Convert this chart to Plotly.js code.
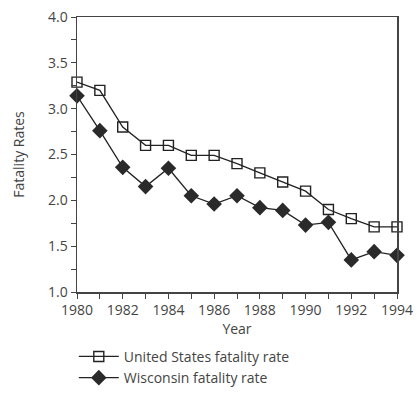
<!DOCTYPE html>
<html><head><meta charset="utf-8">
<script src="https://cdn.plot.ly/plotly-3.0.1.min.js"></script>
<style>body{margin:0;background:#fff}#c{width:417px;height:398px}</style>
</head><body><div id="c"></div>
<script>
const years = [1980,1981,1982,1983,1984,1985,1986,1987,1988,1989,1990,1991,1992,1993,1994];
const usRate = [3.29,3.20,2.80,2.60,2.60,2.49,2.49,2.40,2.30,2.20,2.10,1.90,1.80,1.71,1.71];
const wiRate = [3.14,2.76,2.36,2.15,2.35,2.05,1.96,2.05,1.92,1.89,1.73,1.76,1.35,1.44,1.40];
const seriesNames = ['United States fatality rate','Wisconsin fatality rate'];

const font = {family:'Open Sans, Noto Sans, sans-serif', size:13, color:'#444'};
const data = [
  {x:years, y:usRate, name:seriesNames[0], mode:'lines+markers', cliponaxis:false,
   line:{color:'#222', width:1.3},
   marker:{symbol:'square-open', size:10, color:'#222', line:{width:1.4, color:'#222'}}},
  {x:years, y:wiRate, name:seriesNames[1], mode:'lines+markers', cliponaxis:false,
   line:{color:'#222', width:1.3},
   marker:{symbol:'diamond', size:12, color:'#2a2a2a'}}
];
const layout = {
  width:417, height:398,
  margin:{l:77, r:20, t:17, b:106, autoexpand:false},
  paper_bgcolor:'#fff', plot_bgcolor:'#fff',
  font:font,
  showlegend:true,
  legend:{x:-0.01, xanchor:'left', yref:'container', y:0.077, yanchor:'middle', orientation:'v',
    itemwidth:40,
    font:{family:font.family, size:14, color:'#444'}, tracegroupgap:0, bgcolor:'rgba(0,0,0,0)'},
  xaxis:{range:[1980,1994], tickvals:[1980,1982,1984,1986,1988,1990,1992,1994], automargin:true,
    ticks:'outside', ticklen:5, tickcolor:'#444', showgrid:false, zeroline:false,
    showline:true, linecolor:'#444', linewidth:1.5, mirror:true,
    minor:{dtick:1, tick0:1980, ticks:'outside', ticklen:5, tickcolor:'#444', showgrid:false},
    title:{text:'Year', font:{family:font.family, size:14, color:'#444'}, standoff:4},
    tickfont:{family:font.family, size:14, color:'#444'}},
  yaxis:{range:[1,4], dtick:0.5, tick0:1, tickformat:'.1f', automargin:true,
    ticks:'outside', ticklen:5, tickcolor:'#444', showgrid:false, zeroline:false,
    showline:true, linecolor:'#444', linewidth:1.5, mirror:true,
    minor:{dtick:0.25, tick0:1, ticks:'outside', ticklen:5, tickcolor:'#444', showgrid:false},
    title:{text:'Fatality Rates', font:{family:font.family, size:14, color:'#444'}, standoff:20},
    tickfont:{family:font.family, size:14, color:'#444'}}
};
Plotly.newPlot('c', data, layout, {displayModeBar:false, staticPlot:true});
</script></body></html>
